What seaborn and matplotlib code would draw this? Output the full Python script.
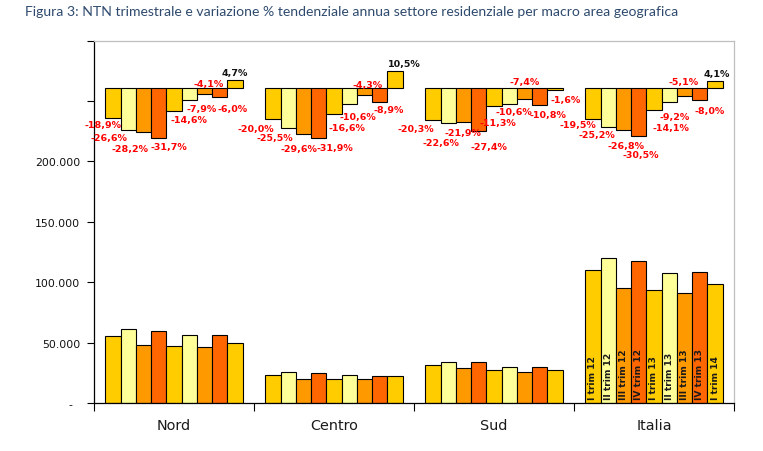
import matplotlib
matplotlib.use("Agg")
import matplotlib.pyplot as plt
import seaborn as sns
import pandas as pd
import numpy as np

# ---------------- data ----------------
areas = ["Nord", "Centro", "Sud", "Italia"]
quarters = ["I trim 12", "II trim 12", "III trim 12", "IV trim 12",
            "I trim 13", "II trim 13", "III trim 13", "IV trim 13", "I trim 14"]

ntn_nord   = [55400, 61200, 47900, 59500, 47100, 56200, 46300, 56200, 49600]
ntn_centro = [23100, 25600, 19800, 24800, 19800, 23100, 19800, 22300, 22300]
ntn_sud    = [31400, 34100, 28900, 34100, 27300, 29700, 25600, 29700, 27300]
ntn_italia = [109700, 119600, 95300, 117900, 93700, 108000, 90700, 108800, 98100]

var_nord   = [-18.9, -26.6, -28.2, -31.7, -14.6, -7.9, -4.1, -6.0, 4.7]
var_centro = [-20.0, -25.5, -29.6, -31.9, -16.6, -10.6, -4.3, -8.9, 10.5]
var_sud    = [-20.3, -22.6, -21.9, -27.4, -11.3, -10.6, -7.4, -10.8, -1.6]
var_italia = [-19.5, -25.2, -26.8, -30.5, -14.1, -9.2, -5.1, -8.0, 4.1]

y_ticks = [0, 50000, 100000, 150000, 200000, 250000, 300000]
y_tick_labels = ["-  ", "50.000", "100.000", "150.000", "200.000", "", ""]

title = ("Figura 3: NTN trimestrale e variazione % tendenziale annua settore "
         "residenziale per macro area geografica")

# ---------------- styles ----------------
colors = ["#FFCC00", "#FFFF99", "#FF9900", "#FF6600",
          "#FFCC00", "#FFFF99", "#FF9900", "#FF6600", "#FFCC00"]
# label offsets in pixels (dx right, dy down) relative to bar end
lab_off = {
    "Nord":   [(-10, 7), (-19, 8), (-13, 16), (10, 8.5), (15, 9), (12, 8.5), (4, -11), (13, 11.5), (0, -7.5)],
    "Centro": [(-17, 9), (-13, 10), (-5, 14), (16, 9), (13, 14), (9, 12), (3, -10.5), (9, 8), (9, -8)],
    "Sud":    [(-17, 9), (-7, 19.5), (-1, 10.5), (10, 16), (3.5, 16.5), (4.5, 7), (0.5, -18), (8, 10), (11, 9.5)],
    "Italia": [(-15, 6), (-11, 7), (3, 15), (2, 19), (16.5, 17), (5, 14), (-1, -14.5), (10, 10), (2, -7.5)],
}

ntn_all = [ntn_nord, ntn_centro, ntn_sud, ntn_italia]
var_all = [var_nord, var_centro, var_sud, var_italia]
rows = []
for a, nv, vv in zip(areas, ntn_all, var_all):
    for q, n, v in zip(quarters, nv, vv):
        rows.append({"area": a, "quarter": q, "ntn": n, "var": v})
df = pd.DataFrame(rows)

sns.set_theme(style="white")
plt.rcParams["font.family"] = ["DejaVu Sans"]

fig = plt.figure(figsize=(7.63, 4.52), dpi=100)
ax = fig.add_axes([94 / 763, 1 - 404 / 452, 640 / 763, 362.5 / 452])

width = 0.859
sns.barplot(data=df, x="area", y="ntn", hue="quarter", order=areas,
            hue_order=quarters, palette=colors, width=width, saturation=1,
            edgecolor="black", linewidth=0.8, legend=False, ax=ax)

ax.set_xlim(-0.5, 3.5)
ax.set_ylim(0, 300000)
ax.set_yticks(y_ticks)
ax.set_yticklabels(y_tick_labels, fontsize=7.8, color="#111111")
ax.set_xlabel("")
ax.set_ylabel("")
ax.tick_params(axis="y", which="major", direction="out", length=5, width=0.8,
               color="black", pad=5, left=True)
ax.set_xticks(range(len(areas)))
ax.set_xticklabels(areas, fontsize=10.4, color="#1a1a1a")
ax.tick_params(axis="x", which="major", length=0, pad=11)
ax.set_xticks(np.arange(-0.5, len(areas), 1.0), minor=True)
ax.tick_params(axis="x", which="minor", direction="out", length=5.5, width=0.8,
               color="black", bottom=True)
for s in ["left", "bottom"]:
    ax.spines[s].set_color("black")
    ax.spines[s].set_linewidth(0.9)
for s in ["top", "right"]:
    ax.spines[s].set_color("#BFBFBF")
    ax.spines[s].set_linewidth(0.9)

# rotated quarter labels inside Italia bars
for qi, cont in enumerate(ax.containers):
    bar = cont.patches[areas.index("Italia")]
    cx = bar.get_x() + bar.get_width() / 2
    ax.annotate(quarters[qi], (cx, 0), xytext=(0, 4), textcoords="offset pixels",
                rotation=90, ha="center", va="bottom", fontsize=6.6,
                fontweight="bold", color="#1a1a1a")

# secondary axis for % variation
ax2 = ax.twinx()
sns.barplot(data=df, x="area", y="var", hue="quarter", order=areas,
            hue_order=quarters, palette=colors, width=width, saturation=1,
            edgecolor="black", linewidth=0.8, legend=False, ax=ax2)
ax2.set_xlim(-0.5, 3.5)
ax2.set_ylim(-200, 30)
ax2.set_yticks([])
ax2.set_ylabel("")
ax2.set_xlabel("")
for s in ax2.spines.values():
    s.set_visible(False)

for qi, cont in enumerate(ax2.containers):
    for ai, bar in enumerate(cont.patches):
        a = areas[ai]
        v = var_all[ai][qi]
        cx = bar.get_x() + bar.get_width() / 2
        dx, dy = lab_off[a][qi]
        txt = f"{v:.1f}%".replace(".", ",")
        col = "#FF0000" if v < 0 else "#111111"
        ax2.annotate(txt, (cx, v), xytext=(dx, -dy), textcoords="offset pixels",
                     ha="center", va="center", fontsize=6.8, fontweight="bold",
                     color=col)

fig.text(25 / 763, 1 - 12 / 452, title, fontsize=10.1, color="#2E4A6E",
         family=["Lato", "DejaVu Sans"], ha="left", va="center")

fig.savefig("out.png", dpi=100)
